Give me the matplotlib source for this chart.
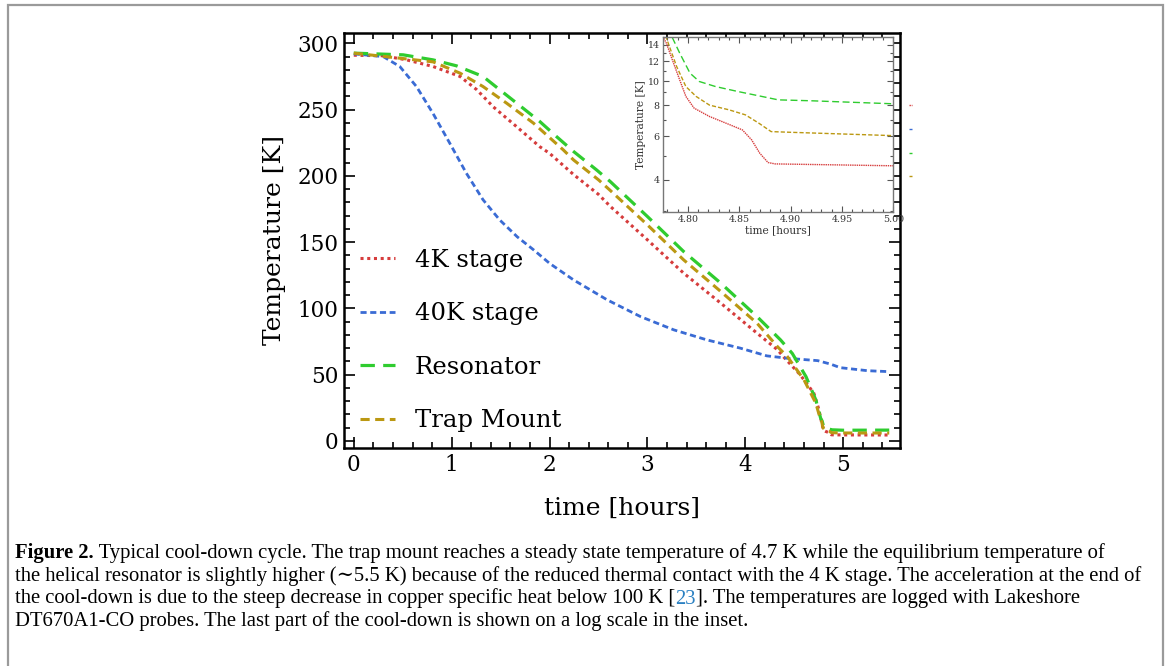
import matplotlib
matplotlib.use('Agg')
import matplotlib.pyplot as plt
from matplotlib.patches import Rectangle
from matplotlib.ticker import MultipleLocator, NullFormatter

# values (time in hours, temperature in K)
t_4k = [0, 0.30, 0.54, 0.81, 1.085, 1.256, 1.426, 1.665, 1.90, 2.0, 2.245, 2.5, 2.62,
        3.0, 3.37, 3.75, 4.12, 4.33, 4.39, 4.56, 4.70, 4.75, 4.779, 4.786, 4.792,
        4.798, 4.806, 4.821, 4.837, 4.853, 4.862, 4.870, 4.878, 4.885, 4.90, 5.00, 5.47]
T_4k = [291, 290.6, 287.5, 282.5, 275, 265, 252, 237, 222, 217, 201, 186, 177,
        151.7, 126.6, 103.9, 81.3, 68.7, 63.5, 50, 36, 24, 14.2, 11.8, 10.1,
        8.67, 7.78, 7.2, 6.77, 6.36, 5.8, 5.12, 4.7, 4.64, 4.63, 4.56, 4.5]

t_40k = [0, 0.30, 0.47, 0.64, 0.81, 0.98, 1.15, 1.32, 1.49, 1.67, 1.84, 2.0, 2.245,
         2.59, 2.93, 3.27, 3.61, 3.95, 4.22, 4.43, 4.74, 4.87, 4.97, 5.25, 5.47]
T_40k = [292, 290, 282.5, 267.4, 247, 224.7, 202, 182, 166.8, 154, 144, 134, 121.5,
         106.4, 93.8, 83.8, 76.2, 70, 64.2, 62.4, 60.6, 58, 55.3, 53, 52.3]

t_res = [0, 0.505, 0.81, 1.05, 1.32, 1.49, 1.73, 1.90, 2.07, 2.245, 2.48, 2.62, 3.0,
         3.37, 3.75, 4.12, 4.36, 4.48, 4.62, 4.72, 4.77, 4.784, 4.792, 4.802, 4.811,
         4.827, 4.849, 4.872, 4.888, 4.92, 5.00, 5.47]
T_res = [292.6, 291.3, 287.5, 283, 275, 265, 251, 241, 229.7, 218.4, 204.5, 195.7, 169.3,
         142.9, 119, 93.8, 76.2, 66, 48.5, 31, 17, 15.2, 12.95, 10.76, 9.96,
         9.5, 9.07, 8.67, 8.4, 8.33, 8.1, 8.2]

t_trap = [0, 0.81, 1.085, 1.32, 1.56, 1.835, 2.14, 2.245, 2.5, 2.62, 3.0, 3.37, 3.75,
          4.12, 4.33, 4.43, 4.60, 4.72, 4.765, 4.779, 4.789, 4.798, 4.808, 4.821,
          4.840, 4.856, 4.869, 4.881, 4.90, 5.00, 5.47]
T_trap = [292.6, 286, 277.5, 267.4, 254.9, 239.8, 219.6, 212, 197, 189, 163, 136.6, 112.7,
          88.8, 71, 63.6, 46, 28.5, 17, 14.9, 11.44, 9.5, 8.67, 8.0,
          7.66, 7.31, 6.77, 6.26, 6.22, 6.03, 6.0]

labels = ['4K stage', '40K stage', 'Resonator', 'Trap Mount']
colors = ['#d63c3c', '#3a6bd4', '#2fcc2f', '#bb9812']
main_dash = [(0, (1.0, 1.2)), (0, (2.2, 1.3)), (0, (4.5, 2.6)), (0, (3.0, 1.8))]
main_lw = [2.2, 2.0, 2.3, 2.2]
inset_dash = [(0, (1.0, 0.6)), (0, (2.5, 1.5)), (0, (5.0, 2.5)), (0, (3.0, 1.5))]

series = [(t_4k, T_4k), (t_40k, T_40k), (t_res, T_res), (t_trap, T_trap)]

caption = [
    [("Figure 2.", "bold", "black"),
     (" Typical cool-down cycle. The trap mount reaches a steady state temperature of 4.7 K "
      "while the equilibrium temperature of", "normal", "black")],
    [("the helical resonator is slightly higher (\u223c5.5 K) because of the reduced thermal "
      "contact with the 4 K stage. The acceleration at the end of", "normal", "black")],
    [("the cool-down is due to the steep decrease in copper specific heat below 100 K [",
      "normal", "black"),
     ("23", "normal", "#2a80c2"),
     ("]. The temperatures are logged with Lakeshore", "normal", "black")],
    [("DT670A1-CO probes. The last part of the cool-down is shown on a log scale in the inset.",
      "normal", "black")],
]

W, H = 1167, 666
plt.rcParams['font.family'] = ['DejaVu Serif']
fig = plt.figure(figsize=(W / 100, H / 100), dpi=100)

# page frame around figure + caption
fig.patches.append(Rectangle((8 / W, -0.1), 1155 / W, 1.1 - 5.5 / H, transform=fig.transFigure,
                             fill=False, ec='#9a9a9a', lw=1.6))

# main plot
ax = fig.add_axes([344 / W, 1 - 448 / H, 556 / W, 415.3 / H])
lines = []
for (t, T), lab, c, d, lw in zip(series, labels, colors, main_dash, main_lw):
    ln, = ax.plot(t, T, color=c, ls=d, lw=lw, label=lab)
    lines.append(ln)
ax.set_xlim(-0.1, 5.58)
ax.set_ylim(-5.3, 308)
ax.xaxis.set_major_locator(MultipleLocator(1))
ax.xaxis.set_minor_locator(MultipleLocator(0.2))
ax.yaxis.set_major_locator(MultipleLocator(50))
ax.yaxis.set_minor_locator(MultipleLocator(10))
ax.tick_params(which='both', direction='in', top=True, right=True, width=1.2, labelsize=15.5)
ax.tick_params(which='major', length=8, pad=4)
ax.tick_params(which='minor', length=4)
for s in ax.spines.values():
    s.set_linewidth(1.8)
ax.set_xlabel('time [hours]', fontsize=18, labelpad=15)
ax.set_ylabel('Temperature [K]', fontsize=18, labelpad=8)
ax.legend(loc='center left', bbox_to_anchor=(0.029, 0.259), frameon=False, fontsize=17.5,
          handlelength=1.45, handletextpad=0.8, labelspacing=1.25, borderpad=0, borderaxespad=0)

# inset, log scale
ax_in = fig.add_axes([663.3 / W, 1 - 211.7 / H, 230 / W, 174.4 / H])
in_lines = []
for (t, T), lab, c, d in zip(series, labels, colors, inset_dash):
    ln, = ax_in.plot(t, T, color=c, ls=d, lw=1.0)
    in_lines.append(ln)
ax_in.set_yscale('log')
ax_in.set_xlim(4.776, 5.0)
ax_in.set_ylim(2.98, 15.0)
ax_in.set_yticks([4, 6, 8, 10, 12, 14], labels=['4', '6', '8', '10', '12', '14'])
ax_in.set_yticks([3, 5, 7, 9, 11, 13, 15], minor=True)
ax_in.yaxis.set_minor_formatter(NullFormatter())
ax_in.set_xticks([4.80, 4.85, 4.90, 4.95, 5.00], labels=['4.80', '4.85', '4.90', '4.95', '5.00'])
ax_in.xaxis.set_minor_locator(MultipleLocator(0.01))
ax_in.tick_params(which='both', direction='in', top=True, right=True, width=0.8,
                  color='#555555', labelsize=6.8, labelcolor='#333333', pad=2.5)
ax_in.tick_params(which='major', length=4)
ax_in.tick_params(which='minor', length=2)
for s in ax_in.spines.values():
    s.set_linewidth(1.0)
    s.set_color('#777777')
ax_in.set_xlabel('time [hours]', fontsize=7.7, color='#333333', labelpad=1)
ax_in.set_ylabel('Temperature [K]', fontsize=7.7, color='#333333', labelpad=1)
ax_in.legend(in_lines, [''] * 4, loc='upper left', bbox_to_anchor=(1.07, 0.63), frameon=False,
             fontsize=6, handlelength=0.35, handletextpad=0, labelspacing=1.9,
             borderpad=0, borderaxespad=0)

# caption, pieces laid out one after another on each line
renderer = fig.canvas.get_renderer()
baselines = [558, 581, 603.5, 626]
for yb, pieces in zip(baselines, caption):
    x = 15.0
    for txt, weight, col in pieces:
        tx = fig.text(x / W, 1 - yb / H, txt, fontsize=14.9, fontweight=weight, color=col,
                      family=['Liberation Serif', 'DejaVu Serif'], va='baseline', ha='left')
        x = tx.get_window_extent(renderer).x1

fig.savefig('out.png', dpi=100)
